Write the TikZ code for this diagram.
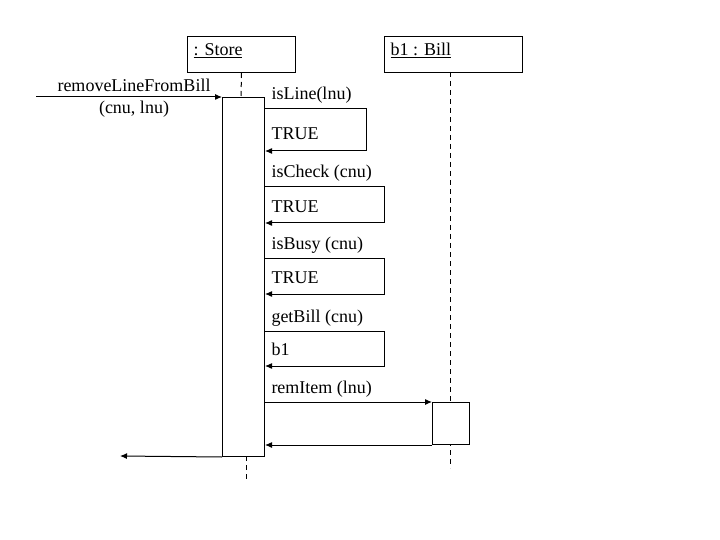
\documentclass[tikz,border=0pt]{standalone}
\usepackage{fontspec}
\setmainfont{Liberation Serif}
\usetikzlibrary{arrows.meta}
\begin{document}
\begin{tikzpicture}[x=1pt,y=-1pt, line width=1pt,
    msg/.style={-{Latex[length=7pt,width=6pt]}},
    life/.style={dash pattern=on 5pt off 4pt},
    lbl/.style={anchor=base west, inner sep=0pt, font=\fontsize{18}{21}\selectfont},
    objbox/.style={draw, anchor=north west, inner sep=0pt, minimum height=36pt},
    actbox/.style={draw, fill=white, anchor=north west, inner sep=0pt}]
  \useasboundingbox (0,0) rectangle (720,540);
  % objects
  \node[objbox, minimum width=108pt] (store) at (187,36) {};
  \node[objbox, minimum width=138pt] (bill) at (384,36) {};
  \node[lbl] (storelbl) at (193,56) {\underline{: Store}};
  \node[lbl] (billlbl) at (390,56) {\underline{b1 : Bill}};
  % lifelines
  \draw[life] (store.south) -- (241,97);
  \draw[life] (450,72) -- (450,468);
  \draw[life] (246,456) -- (246,480);
  % activations
  \node[actbox, minimum width=42pt, minimum height=359pt] (storeact) at (222,97) {};
  \node[actbox, minimum width=37pt, minimum height=42pt] (billact) at (432,402) {};
  % incoming call and return
  \coordinate (caller) at (36,97);
  \coordinate (outend) at (120,456);
  \draw[msg] (caller) -- (storeact.north west);
  \node[lbl, anchor=base] (inlbl) at (134,92) {removeLineFromBill};
  \node[lbl, anchor=base] (inargs) at (134,114) {(cnu, lnu)};
  \draw[msg] (storeact.south west) -- (outend);
  % self calls
  \foreach \call/\ret/\top/\bot/\right in {
    isLine(lnu)/TRUE/109/151/366,
    isCheck (cnu)/TRUE/187/223/384,
    isBusy (cnu)/TRUE/258/294/384,
    getBill (cnu)/b1/331/366/384
  }{
    \node[lbl] at (271,\top-9) {\call};
    \node[lbl] at (271,\bot-11) {\ret};
    \draw[msg] (storeact.east |- 0,\top) -| (\right,\bot) -- (storeact.east |- 0,\bot);
  }
  % call to bill
  \node[lbl] (remlbl) at (271,393) {remItem (lnu)};
  \draw[msg] (storeact.east |- billact.north) -- (billact.north west);
  \draw[msg] (billact.south west) -- (storeact.east |- billact.south);
\end{tikzpicture}
\end{document}
